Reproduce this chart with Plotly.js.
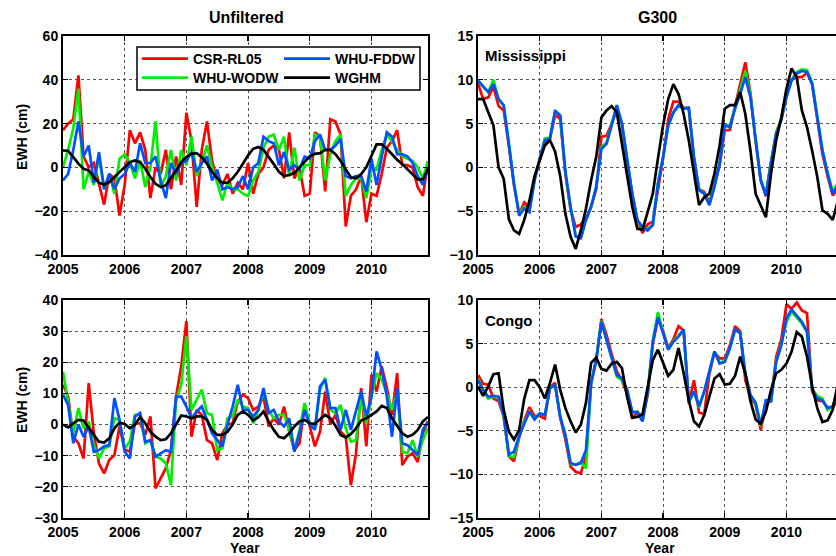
<!DOCTYPE html>
<html>
<head>
<meta charset="utf-8">
<script src="https://cdn.plot.ly/plotly-3.0.1.min.js"></script>
<style>
html,body{margin:0;padding:0;overflow:hidden;background:#fff;}
#chart{width:846px;height:556px;}
</style>
</head>
<body>
<div id="chart"></div>
<script>
// ---------- data (EWH, cm), monthly Jan 2005 – Dec 2010 ----------
var startYear = 2005;
var nMonths = 72;
var yearTicks = [2005, 2006, 2007, 2008, 2009, 2010];
var seriesNames = ["CSR-RL05", "WHU-WODW", "WHU-FDDW", "WGHM"];
var seriesColors = ["#ff0000", "#00ee00", "#0050ff", "#000000"];
var panelTitles = ["Unfiltered", "G300"];
var basinNames = ["Mississippi", "Congo"];

// Mississippi, unfiltered
var missUnfCSR  = [17,20,22,42,5,0,2,-8,-17,-3,-5,-22, -8,17,11,16,8,-14,0,-3,8,-10,5,-8, 25,12,-18,8,21,3,-6,-8,-3,-12,-7,-10, 2,-12,-3,0,8,10,8,-5,16,-5,0,-13, -12,16,14,-11,22,21,15,-27,-13,-10,-4,-25, -12,-13,-3,9,12,17,1,1,0,-9,-13,2];
var missUnfWODW = [0,8,18,36,-10,-2,-8,5,-10,-3,-12,4, 6,2,-5,3,-9,0,21,-9,-4,8,-6,8, 1,14,-4,2,10,0,-7,-15,-7,-10,-10,-12, -13,-6,-2,9,14,15,8,14,-4,9,-6,1, 1,15,14,-6,6,12,15,-13,-8,-5,-5,-14, -1,-1,8,15,12,8,5,4,3,0,-5,3];
var missUnfFDDW = [-6,-3,8,21,5,10,-7,7,-10,-3,-10,-5, -3,2,-2,11,2,2,5,-6,-14,2,-3,2, 3,7,-2,2,5,-6,-1,-10,-9,-10,-9,-4, -10,0,2,14,12,11,1,7,-1,1,-1,5, 4,12,15,8,8,10,13,-4,-5,-4,-4,-11, 4,-8,5,16,14,6,6,5,2,-4,-8,0];
var missUnfWGHM = [7.8,7.5,4.7,1.7,-0.6,-1.4,-4.4,-7,-7.8,-6.7,-4.4,-2, 0,2.4,3.2,2.4,-0.6,-4.4,-7.5,-9,-8.2,-5,-1.4,2.4, 4.7,6.2,6.5,4.7,1.7,-2,-5,-7,-7,-5,-2,1.7, 5.5,8.5,9.3,8,5,1.5,-2,-4,-3.5,-2.6,0,2.5, 5,6.2,6.5,8,8,6,3,-1,-4.5,-5,-3,0, 5,10.5,10.5,8.5,6,3.5,1.5,-1,-3.5,-5.5,-5.5,-0.5];

// Congo, unfiltered
var congoUnfCSR  = [12.8,9,-3.9,-6,-10.9,13.3,-2.8,-12.5,-15.7,-11.4,-9.8,-0.6, -8,-8.7,0.4,0.4,-3.3,2.6,-20.5,-17.3,-14,-8.2,9,18.7, 33.2,-3.9,4.7,3.1,-5,-6,-11.4,-2.8,0,0.4,7.4,9.6, 8.5,4.7,5.8,9,-0.6,2,0,5.8,-2.3,-8.2,-6,5.8, -0.6,-7,-2.3,10.6,0,3.1,-2.3,-3.9,-19.5,-9.2,11.7,-7, 16,10.6,18.7,11.7,3.1,16.5,-13,-10.3,-9.2,-12,-2.8,1];
var congoUnfWODW = [17,6.9,-2.8,5.3,-1.2,1,-6.6,-10.9,-7.6,-7,2,1.5, -7.6,-5.5,3.1,3.1,-6,-5,-10.3,-10.9,-12.5,-19.5,8,12.8, 28.4,4.7,8,11.2,3.7,3.1,-8.2,-7.6,2,2.6,8,5.8, 5.3,0.4,4.7,10.6,4.7,2,3.1,3.1,-1.7,-8.2,-1.7,6.9, 0.4,-1.2,11.2,15,4.7,3.7,6.3,-1.2,-5.5,-5,9,0.4, 9,16.5,14.4,10,4.7,10.6,-8.7,-9.2,-5,-10.3,-5,-1.2];
var congoUnfFDDW = [9.6,6.3,-6,0,-3.9,-0.6,-8.7,-8.2,-7,-6.6,8.5,1.5, -8.7,-10.9,2.6,3.7,-5.5,-5,-10.3,-9.2,-8.2,-8.7,9,9, 5.8,2,4.2,5.8,1.5,-2.8,-5,-7,0,5.8,12.8,4.7, 4.7,2.6,4.7,11.7,3.7,4.7,1,-0.6,2,-8.7,-2.8,4.7, 0,-1.7,12.3,14.4,5.3,5.3,-1.7,4.7,-1.7,4.7,10.6,2.6, 9,23.5,17.6,9,-3.9,11.7,-6,-6.6,-8.2,-9.8,-1.7,1];
var congoUnfWGHM = [0,-0.9,0.4,1.5,1.3,-1.2,-3.3,-5.5,-5.8,-4.4,-1.2,0.6, 0.2,-1.2,0,2.4,0.4,-2.3,-3.9,-5,-4.7,-2.8,0.2,2.9, 2.6,2,2.6,2.6,1.5,-1.7,-3.3,-3.3,-2.3,0,3.1,4.2, 3.1,1.3,2.4,4.2,1,-1.7,-3.9,-4.4,-2.8,-0.6,1,1.5, 0.4,0.2,1.7,3.1,2,-0.4,-3.3,-4.1,-3,-1.2,1.3,2, 3.1,4.2,6,5.3,2,-0.6,-2.8,-3.9,-3.3,-1.7,1,2.4];

// Mississippi, G300
var missG300CSR  = [9.6,7.8,8.0,9.2,7.0,6.5,2.5,-2,-5.3,-4.0,-4.6,-1.3, 0.8,2.8,3.3,6.0,5.5,-0.8,-4.8,-6.8,-6.5,-5.8,-4.5,-2.5, 3.5,3.6,5.0,6.5,5,0.5,-3,-6,-7.5,-6.5,-6.2,-2.5, 1,5.5,7.5,7.5,6.8,6.8,1,-2.5,-2.8,-4,-2,0.2, 4.2,4.3,7,9.5,12,8.5,3,-1.5,-3.3,0.5,4,5.5, 8.5,10,10.3,10.3,10.8,9.5,5.5,1.5,-1,-3.2,-2.5,0];
var missG300WODW = [10,9.2,8.6,10,7.8,7.1,2.8,-1.8,-5.3,-4.5,-4.8,-1.3, 1,3.3,3.4,6.4,5.9,-0.6,-4.6,-7.8,-8,-6,-4.5,-2.3, 2.3,2.8,5,7,5,0.8,-3,-6,-7,-7,-6.6,-1.8, 1.2,4.7,6.2,7,6.8,6.8,1.2,-2.5,-3,-4.2,-2.1,0.5, 4.8,4.8,6.9,8.7,11,8.3,3,-1.4,-3,0.7,3.9,5.6, 8.1,10,10.9,11.2,11.1,9.7,5.9,2,-0.6,-2.8,-1.7,0];
var missG300FDDW = [9.9,9.2,8.6,9.5,7.8,7.1,2.7,-1.9,-5.5,-4.7,-5.1,-1.5, 1,3.1,3.3,6.5,5.9,-0.5,-4.5,-7.9,-8.1,-6,-4.5,-2.2, 2.1,2.7,4.8,7.1,5,0.8,-3,-6,-6.8,-7.2,-6.6,-1.9, 1.2,4.8,6.3,7.1,6.7,6.8,1.2,-2.6,-3,-4.3,-2.2,0.4, 4.8,4.6,6.7,8.4,10.3,8,2.9,-1.5,-3.2,0.6,3.8,5.4, 8,9.9,10.7,11,10.9,9.5,5.7,1.9,-0.7,-3,-2.1,0];
var missG300WGHM = [7.8,7.8,6.3,4.8,0,-1.3,-5.9,-7.2,-7.6,-6,-3.8,-1, 0.8,2.5,3.1,1.8,-1,-5.3,-7.9,-9.3,-7.2,-4.7,-1.5,1.2, 5.7,6.5,7,6.3,2.7,-0.7,-4.5,-7,-7.1,-5.1,-3,1, 4.8,7.8,9.5,8.4,6.1,3.1,-0.7,-4.3,-3.4,-3,-0.7,2.5, 6.7,7.1,7.1,8.6,6.1,1.9,-3,-4.3,-5.7,-0.7,3.1,5.7, 9,11.3,10.3,6.5,4.6,1.9,-1.1,-4.9,-5.3,-6,-3.8,-1];

// Congo, G300
var congoG300CSR  = [1.4,0.4,0.3,-1.3,-1.6,-3.4,-7.9,-8.5,-5.8,-3.8,-2.3,-3.3, -3.3,-3.6,0,0.5,-3.5,-6,-9.1,-9.7,-9.9,-7.9,0.4,3.2, 7.8,6,3.8,1.8,0.8,-0.8,-3.6,-2.8,-3.5,-0.9,5,7.8, 6.5,4.5,5.5,7,6.5,-1.9,0.8,-2.9,-3.1,1.5,4,3.3, 3.3,4.8,7,6.4,0.8,-1.2,-2,-4.9,-2,-1.5,3.5,5.5, 9.5,9,9.7,8.8,8.5,-0.5,-1.5,-1.6,-2.3,-2.3,-1.5,0.5];
var congoG300WODW = [1,-0.3,-1.3,-1.1,-1.2,-3.3,-7.9,-8,-5.6,-4,-2.8,-3.6, -3,-3.2,0,0.2,-3.4,-5.5,-8.8,-8.9,-8.6,-9.3,0.4,3.1, 7.6,5.5,3.3,1.2,0.8,-0.3,-2.9,-2.8,-3.9,-0.7,5.3,8.6, 6.3,4.4,5.3,6,6.6,-1.8,-0.5,-2.3,-0.5,1.8,4.1,2.8, 3,4.5,6.6,6.2,1.5,-0.9,-1.9,-4.5,-1.5,-1.6,3,5, 7.5,8.7,8,7.3,6.3,-0.2,-1,-1.3,-2.6,-2.2,-0.2,1];
var congoG300FDDW = [0.8,-0.3,-1.1,-1,-1.1,-3.2,-7.7,-7.4,-5.6,-4.1,-2.8,-3.7, -3,-3.2,-0.1,0.2,-3.4,-5.5,-8.7,-8.9,-8.7,-7.2,0.5,3.1, 7.5,5.4,3.3,1.4,1,-0.3,-2.8,-2.9,-3.9,-0.7,5.2,8, 6.2,4.3,5.2,5.8,6.6,-1.6,-0.5,-2.2,-0.5,1.8,4.1,2.7, 2.9,4.5,6.6,6.2,1.6,-0.9,-1.8,-4.3,-1.5,-1.6,2.9,4.8, 7.9,8.9,8.2,7.5,6.4,-0.3,-1.3,-1.5,-2.4,-2.2,-0.3,1];
var congoG300WGHM = [0.1,-1,0.1,1.5,1.6,-2.6,-5.1,-6,-4.9,-1.3,0.8,0.8, 0,-1.3,0.5,2.6,-0.3,-2.4,-3.9,-5.2,-4.3,-1.8,2.8,3.4, 2.1,1.9,2.7,2.9,2.2,-1.1,-3.5,-3.4,-3.1,0.1,3.1,4.3, 2.7,1.3,2,4.5,1.6,-1.5,-3.9,-4.5,-3.2,-1.1,1,1.5, 0.3,0.4,1.3,3.5,1.6,-1.6,-3.7,-4.2,-2.8,-0.3,1.6,2, 2.7,4.1,6.3,5.8,3.5,0.1,-2.4,-4,-3.8,-2.6,0.5,2];

// ---------- build ----------
var time = [];
for (var m = 0; m < nMonths; m++) time.push(startYear + m / 12);

var panels = [
  {xa: "x",  ya: "y",  data: [missUnfCSR, missUnfWODW, missUnfFDDW, missUnfWGHM], legend: true},
  {xa: "x2", ya: "y2", data: [missG300CSR, missG300WODW, missG300FDDW, missG300WGHM]},
  {xa: "x3", ya: "y3", data: [congoUnfCSR, congoUnfWODW, congoUnfFDDW, congoUnfWGHM]},
  {xa: "x4", ya: "y4", data: [congoG300CSR, congoG300WODW, congoG300FDDW, congoG300WGHM]}
];
// legend rows: row 1 = CSR-RL05, WHU-FDDW ; row 2 = WHU-WODW, WGHM
var legendOf = ["legend", "legend2", "legend", "legend2"];
var legendRank = [1, 3, 2, 4];

var traces = [];
panels.forEach(function (p) {
  p.data.forEach(function (vals, i) {
    traces.push({
      type: "scatter", mode: "lines",
      x: time, y: vals,
      xaxis: p.xa, yaxis: p.ya,
      name: seriesNames[i],
      line: {color: seriesColors[i], width: 2.7},
      showlegend: !!p.legend,
      legend: legendOf[i],
      legendrank: legendRank[i],
      hoverinfo: "skip"
    });
  });
});

var W = 846, H = 556;
function px(x) { return x / W; }
function py(y) { return 1 - y / H; }

var xRange = [startYear, startYear + (nMonths - 1) / 12];
function xAxis(domain, anchor) {
  return {
    domain: domain, anchor: anchor, range: xRange,
    tickvals: yearTicks, ticktext: yearTicks.map(String),
    ticks: "inside", ticklen: 5, tickwidth: 1.2, tickcolor: "#000",
    showline: true, linecolor: "#000", linewidth: 2, mirror: "ticks",
    showgrid: true, gridcolor: "#555", griddash: "dot", gridwidth: 1,
    zeroline: false, tickfont: {size: 14}
  };
}
function yAxis(domain, anchor, range, dtick) {
  return {
    domain: domain, anchor: anchor, range: range, dtick: dtick, tick0: 0,
    ticks: "inside", ticklen: 5, tickwidth: 1.2, tickcolor: "#000",
    showline: true, linecolor: "#000", linewidth: 2, mirror: "ticks",
    showgrid: true, gridcolor: "#555", griddash: "dot", gridwidth: 1,
    zeroline: false, tickfont: {size: 14}
  };
}

var xLeft = [px(63), px(428)], xRight = [px(478), px(843)];
var yTop = [py(255), py(36)], yBot = [py(518), py(300)];

function label(text, x, y, size, extra) {
  var a = {text: text, x: px(x), y: py(y), xref: "paper", yref: "paper",
           xanchor: "center", yanchor: "middle", showarrow: false, font: {size: size}};
  for (var k in extra) a[k] = extra[k];
  return a;
}

var legendCommon = {xanchor: "left", yanchor: "middle", orientation: "h",
  itemwidth: 46, entrywidth: 81, bgcolor: "rgba(0,0,0,0)", borderwidth: 0, font: {size: 14}};
function legendAt(y) {
  var l = {x: px(137), y: py(y)};
  for (var k in legendCommon) l[k] = legendCommon[k];
  return l;
}

var layout = {
  width: W, height: H,
  margin: {l: 0, r: 0, t: 0, b: 0},
  paper_bgcolor: "#fff", plot_bgcolor: "#fff",
  font: {family: "Liberation Sans, Arial, sans-serif", color: "#000", weight: "bold", size: 14},
  showlegend: true,
  xaxis: xAxis(xLeft, "y"),
  yaxis: yAxis(yTop, "x", [-40, 60], 20),
  xaxis2: xAxis(xRight, "y2"),
  yaxis2: yAxis(yTop, "x2", [-10, 15], 5),
  xaxis3: xAxis(xLeft, "y3"),
  yaxis3: yAxis(yBot, "x3", [-30, 40], 10),
  xaxis4: xAxis(xRight, "y4"),
  yaxis4: yAxis(yBot, "x4", [-15, 10], 5),
  legend: legendAt(59),
  legend2: legendAt(78),
  shapes: [{type: "rect", xref: "paper", yref: "paper", layer: "above",
            x0: px(137), x1: px(420), y0: py(90), y1: py(47),
            line: {color: "#000", width: 1.5}, fillcolor: "#fff"}],
  annotations: [
    label(panelTitles[0], 247, 17, 16),
    label(panelTitles[1], 657, 17, 16),
    label("EWH (cm)", 22, 137, 14, {textangle: -90}),
    label("EWH (cm)", 22, 400, 14, {textangle: -90}),
    label("Year", 245, 548, 14),
    label("Year", 660, 548, 14),
    label(basinNames[0], 483, 55, 15, {xanchor: "left"}),
    label(basinNames[1], 483, 320, 15, {xanchor: "left"})
  ]
};

Plotly.newPlot("chart", traces, layout, {staticPlot: true, displayModeBar: false});
</script>
</body>
</html>
